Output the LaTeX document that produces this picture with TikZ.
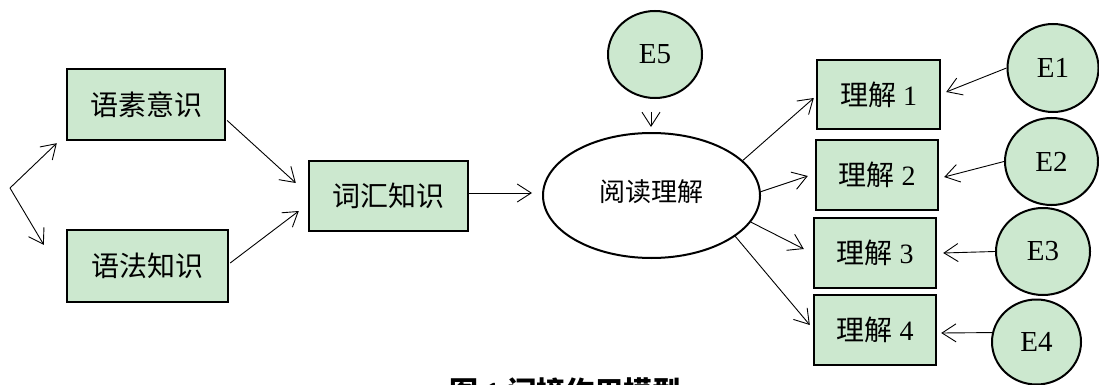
\documentclass[tikz,border=0pt]{standalone}
\usepackage{fontspec}
\setmainfont{Liberation Serif}
\newfontfamily\cjk{Noto Sans CJK SC}
\usetikzlibrary{arrows.meta,calc,shapes.geometric}
\definecolor{boxgreen}{RGB}{204,232,207}
\tikzset{
  varbox/.style={draw=black, line width=2.4pt, fill=boxgreen, inner sep=0pt, font=\fontsize{28}{32}\selectfont},
  errc/.style={ellipse, draw=black, line width=2pt, fill=boxgreen, inner sep=0pt, font=\fontsize{29}{32}\selectfont},
  latent/.style={ellipse, draw=black, line width=2pt, fill=white, inner sep=0pt, font=\fontsize{26}{30}\selectfont},
  path/.style={line width=0.9pt, -{Straight Barb[length=14pt,width=18pt,line width=0.9pt]}},
}
\begin{document}
\begin{tikzpicture}[x=1pt,y=-1pt]
\clip (0,0) rectangle (1099,385);
\fill[white] (0,0) rectangle (1099,385);
% left nodes
\node[varbox, minimum width=158pt, minimum height=71pt] (ysyy) at (146,104.5) {\cjk 语素意识};
\node[varbox, minimum width=161pt, minimum height=72pt] (yfzs) at (147.5,266) {\cjk 语法知识};
\node[varbox, minimum width=159pt, minimum height=70pt] (chzs) at (388.5,196) {\cjk 词汇知识};
\node[latent, minimum width=217pt, minimum height=125pt] (ydlj) at (651.5,195.5) {\raisebox{10pt}{\cjk 阅读理解}};
\node[errc, minimum width=94pt, minimum height=87pt] (e5) at (655,54.5) {E5};
% right boxes
\node[varbox, minimum width=123pt, minimum height=69pt] (lj1) at (878.5,94.5) {{\cjk 理解} 1};
\node[varbox, minimum width=122pt, minimum height=70pt] (lj2) at (877,175) {{\cjk 理解} 2};
\node[varbox, minimum width=122pt, minimum height=70pt] (lj3) at (875,253) {{\cjk 理解} 3};
\node[varbox, minimum width=122pt, minimum height=70pt] (lj4) at (875,330) {{\cjk 理解} 4};
% error circles
\node[errc, minimum width=91pt, minimum height=88pt] (e1) at (1053,68) {E1};
\node[errc, minimum width=93pt, minimum height=87pt] (e2) at (1051.5,161.5) {E2};
\node[errc, minimum width=94pt, minimum height=87pt] (e3) at (1043,251.5) {E3};
\node[errc, minimum width=89pt, minimum height=85pt] (e4) at (1036.5,342) {E4};
% fork
\coordinate (fork) at (10,188);
\draw[path] (fork) -- ($(ysyy.south west)+(-9,2)$);
\draw[path] (fork) -- ($(yfzs.north west)+(-22,16)$);
% paths
\draw[path] ($(ysyy.east)+(1,16)$) -- ($(chzs.west)+(-12,-13)$);
\draw[path] ($(yfzs.east)+(1,-3)$) -- ($(chzs.west)+(-9,15)$);
\draw[path] ($(chzs.east)+(0,-3)$) -- ($(ydlj.west)+(-10,-2.5)$);
\draw[path] ($(e5.south)+(-4,13)$) -- ($(e5.south |- ydlj.north)+(-4,-5)$);
\draw[path] (ydlj.21) -- ($(lj1.west)+(-2,3.5)$);
\draw[path] (ydlj.2) -- ($(lj2.west)+(-7,1)$);
\draw[path] (ydlj.-15) -- ($(lj3.west)+(-9,-4)$);
\draw[path] (ydlj.-26) -- ($(lj4.west)+(-3,-5)$);
\draw[path] (e1.west) -- ($(lj1.east)+(5,-2.5)$);
\draw[path] (e2.west) -- ($(lj2.east)+(5,2)$);
\draw[path] (e3.west) -- ($(lj3.east)+(6,0)$);
\draw[path] (e4.168) -- ($(lj4.east)+(4,3)$);
% caption (cut off at the bottom edge, as in the reference)
\node[anchor=base, inner sep=0pt, font=\bfseries\fontsize{29}{32}\selectfont] (cap) at (565,402) {{\cjk 图} 1 {\cjk 间接作用模型}};
\end{tikzpicture}
\end{document}
